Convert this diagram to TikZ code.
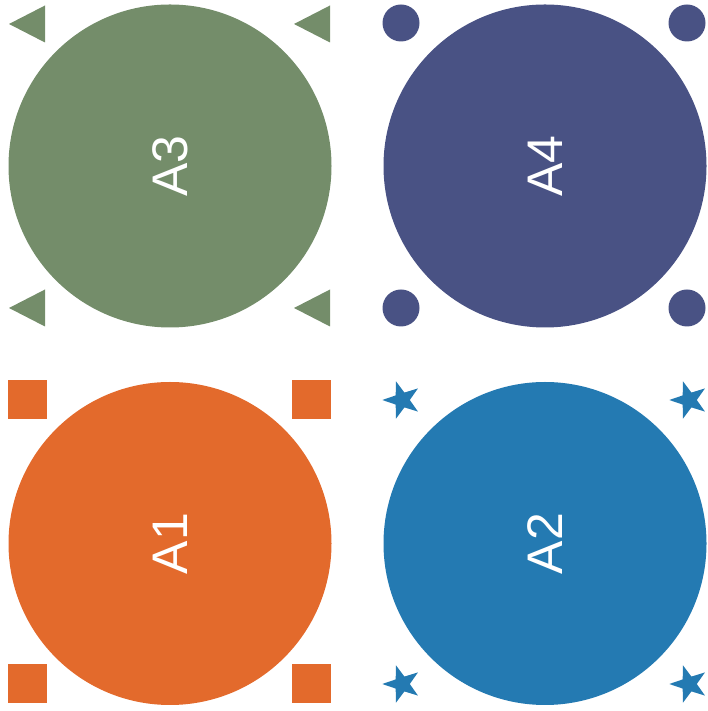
\documentclass[tikz,border=0pt]{standalone}
\usepackage{fontspec}
\setmainfont{Liberation Sans}
\usepackage{xcolor}

\definecolor{sage}{RGB}{116,141,106}
\definecolor{indigo}{RGB}{73,82,132}
\definecolor{rust}{RGB}{227,106,44}
\definecolor{steel}{RGB}{36,122,178}

\begin{document}
\begin{tikzpicture}[x=1pt, y=1pt]
\useasboundingbox (0,0) rectangle (707,711);
\tikzset{
  disc/.style={circle, minimum size=323pt, inner sep=0pt, text=white,
    font=\fontsize{50}{50}\selectfont, rotate=90},
}
% big discs
\node[disc, fill=sage]   (A3) at (170,545)   {A3};
\node[disc, fill=indigo] (A4) at (545,545)   {A4};
\node[disc, fill=rust]   (A1) at (170,167.5) {A1};
\node[disc, fill=steel]  (A2) at (545,167.5) {A2};
% corner marks
\foreach \x/\y in {27/687, 312/687, 27/403, 312/403}{
    \fill[sage] (\x,\y) ++(-18,0) -- ++(36,18.5) -- ++(0,-37) -- cycle;
}
\foreach \x/\y in {401/688, 687/688, 401/403, 687/403}{
    \fill[indigo] (\x,\y) circle (18.5);
}
\foreach \x/\y in {27.5/311.5, 311.5/311.5, 27.5/27, 311.5/27}{
    \fill[rust] (\x,\y) ++(-19.5,-19.5) rectangle ++(39,39);
}
\foreach \x/\y in {402/311, 689/311, 402/27, 689/27}{
    \begin{scope}[shift={(\x,\y)}]
    \fill[steel] (180:19.7) -- (216:7.8) -- (252:19.7) -- (288:7.8)
      -- (324:19.7) -- (0:7.8) -- (36:19.7) -- (72:7.8)
      -- (108:19.7) -- (144:7.8) -- cycle;
    \end{scope}
}
\end{tikzpicture}
\end{document}
